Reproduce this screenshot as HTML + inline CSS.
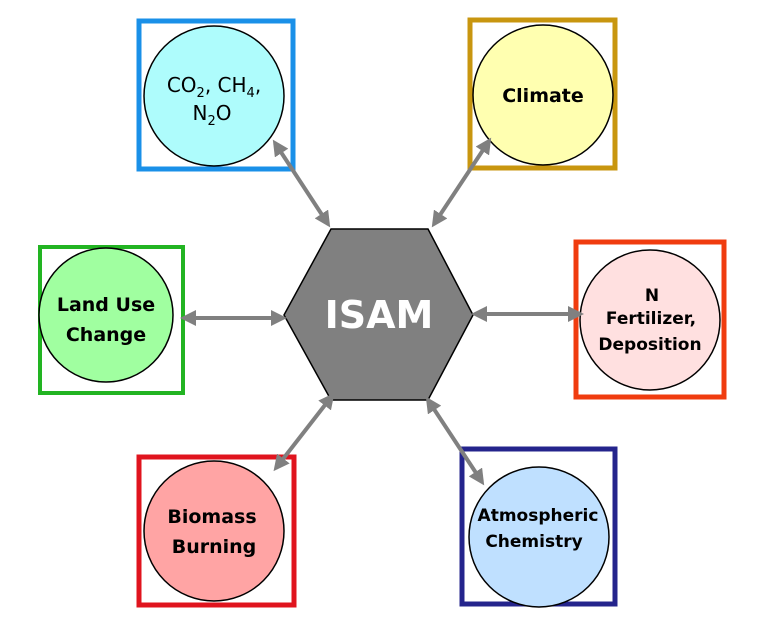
<!DOCTYPE html>
<html><head><style>
body{margin:0;background:#fff;}
svg{display:block}
text{font-family:"Comic Sans MS","DejaVu Sans","Liberation Sans",sans-serif;fill:#000;text-anchor:middle}
</style></head><body>
<svg width="771" height="623" viewBox="0 0 771 623" xmlns="http://www.w3.org/2000/svg">
<defs>
<marker id="a" markerWidth="4" markerHeight="4" refX="3" refY="2" orient="auto-start-reverse" markerUnits="strokeWidth">
<path d="M0,0 L4,2 L0,4 z" fill="#808080"/>
</marker>
</defs>
<rect x="139" y="21" width="154" height="148" fill="none" stroke="#1a90e8" stroke-width="5"/>
<circle cx="214" cy="96" r="70" fill="#aefcfc" stroke="#000" stroke-width="1.5"/>
<text x="214" y="92" font-size="20">CO<tspan font-size="13" dy="5">2</tspan><tspan dy="-5">, CH</tspan><tspan font-size="13" dy="5">4</tspan><tspan dy="-5">,</tspan></text>
<text x="212" y="120" font-size="20">N<tspan font-size="13" dy="5">2</tspan><tspan dy="-5">O</tspan></text>

<rect x="470" y="20" width="145" height="148" fill="none" stroke="#c8960f" stroke-width="5"/>
<circle cx="543" cy="95" r="70" fill="#ffffb0" stroke="#000" stroke-width="1.5"/>
<text x="543" y="102" font-size="19" font-weight="bold">Climate</text>

<rect x="40" y="247" width="143" height="146" fill="none" stroke="#22b422" stroke-width="4"/>
<circle cx="106" cy="315" r="67" fill="#a0ffa0" stroke="#000" stroke-width="1.5"/>
<text x="106" y="311" font-size="19" font-weight="bold">Land Use</text>
<text x="106" y="341" font-size="19" font-weight="bold">Change</text>

<rect x="576" y="242" width="148" height="155" fill="none" stroke="#f03c0f" stroke-width="5"/>
<circle cx="650" cy="320" r="70" fill="#ffe0e0" stroke="#000" stroke-width="1.5"/>
<text x="652" y="301" font-size="17" font-weight="bold">N</text>
<text x="651" y="324" font-size="17" font-weight="bold">Fertilizer,</text>
<text x="650" y="350" font-size="17" font-weight="bold">Deposition</text>

<rect x="139" y="457" width="155" height="148" fill="none" stroke="#e0141e" stroke-width="5"/>
<circle cx="214" cy="531" r="70" fill="#ffa4a4" stroke="#000" stroke-width="1.5"/>
<text x="212" y="523" font-size="19" font-weight="bold">Biomass</text>
<text x="214" y="553" font-size="19" font-weight="bold">Burning</text>

<rect x="462" y="449" width="153" height="155" fill="none" stroke="#24248c" stroke-width="5"/>
<circle cx="539" cy="537" r="70" fill="#bfe0ff" stroke="#000" stroke-width="1.5"/>
<text x="538" y="521" font-size="17" font-weight="bold">Atmospheric</text>
<text x="534" y="547" font-size="17" font-weight="bold">Chemistry</text>

<polygon points="331,229 428,229 473,315 428,400 331,400 284,315" fill="#808080" stroke="#000" stroke-width="1.5"/>
<text x="379" y="328" font-size="38" font-weight="bold" style="fill:#fff">ISAM</text>

<g stroke="#808080" stroke-width="4" marker-start="url(#a)" marker-end="url(#a)">
<line x1="275" y1="143" x2="328" y2="224"/>
<line x1="489" y1="141" x2="434" y2="224"/>
<line x1="184" y1="318" x2="283" y2="318"/>
<line x1="475" y1="314" x2="580" y2="314"/>
<line x1="332" y1="396" x2="276" y2="468"/>
<line x1="428" y1="400" x2="482" y2="482"/>
</g>
</svg>
</body></html>
